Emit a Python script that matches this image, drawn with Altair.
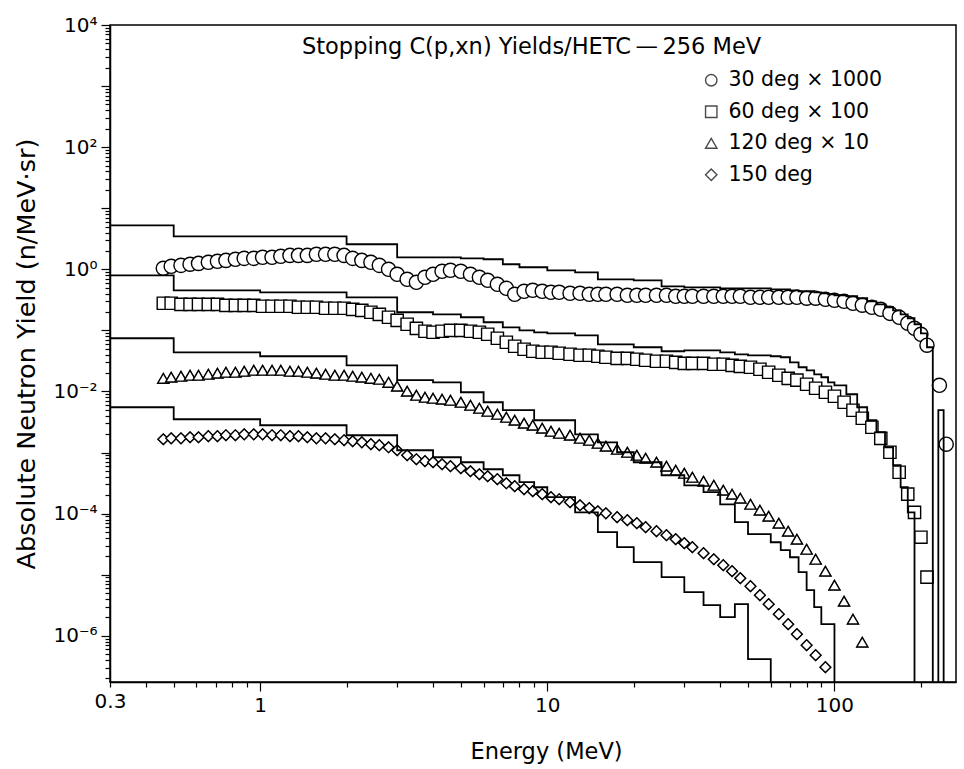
import altair as alt
import pandas as pd

FONT = "DejaVu Sans"
SERIES = ["30 deg × 1000", "60 deg × 100", "120 deg × 10", "150 deg"]
SHAPES = ["circle", "square", "triangle-up", "diamond"]
SIZES = [200, 150, 125, 115]

# ---------------- measured points (energy in MeV, yield n/MeV·sr) ----------------
E30 = [0.46, 0.49, 0.53, 0.57, 0.61, 0.66, 0.71, 0.76, 0.82, 0.88,
       0.95, 1.02, 1.1, 1.18, 1.27, 1.36, 1.46, 1.57, 1.69, 1.82,
       1.96, 2.1, 2.26, 2.43, 2.6, 2.8, 3.0, 3.25, 3.5, 3.75,
       4.0, 4.3, 4.6, 5.0, 5.4, 5.8, 6.2, 6.7, 7.2, 7.7,
       8.3, 8.9, 9.6, 10.3, 11, 12, 13, 14, 15, 16,
       17.5, 19, 20.5, 22, 24, 26, 28, 30, 32, 35,
       38, 41, 44, 47, 51, 55, 59, 64, 69, 74,
       80, 86, 93, 100, 108, 116, 125, 135, 145, 156,
       168, 180, 190, 200, 210, 232, 245]
Y30 = [1.04, 1.12, 1.16, 1.21, 1.25, 1.30, 1.35, 1.40, 1.46, 1.51,
       1.51, 1.57, 1.57, 1.63, 1.69, 1.69, 1.69, 1.76, 1.76, 1.76,
       1.69, 1.51, 1.40, 1.30, 1.16, 1.00, 0.828, 0.686, 0.613, 0.740,
       0.828, 0.927, 0.963, 0.927, 0.828, 0.740, 0.661, 0.568, 0.489, 0.390,
       0.437, 0.453, 0.437, 0.420, 0.420, 0.405, 0.405, 0.390, 0.390, 0.390,
       0.390, 0.376, 0.376, 0.376, 0.376, 0.376, 0.362, 0.362, 0.362, 0.362,
       0.362, 0.362, 0.362, 0.362, 0.348, 0.348, 0.348, 0.348, 0.348, 0.348,
       0.336, 0.336, 0.323, 0.311, 0.299, 0.278, 0.258, 0.239, 0.221, 0.190,
       0.164, 0.131, 0.108, 0.0864, 0.0571, 0.0126, 0.00137]

E60 = [0.46, 0.49, 0.53, 0.57, 0.61, 0.66, 0.71, 0.76, 0.82, 0.88,
       0.95, 1.02, 1.1, 1.18, 1.27, 1.36, 1.46, 1.57, 1.69, 1.82,
       1.96, 2.1, 2.26, 2.43, 2.6, 2.8, 3.0, 3.25, 3.5, 3.75,
       4.0, 4.3, 4.6, 5.0, 5.4, 5.8, 6.2, 6.7, 7.2, 7.7,
       8.3, 8.9, 9.6, 10.3, 11, 12, 13, 14, 15, 16,
       17.5, 19, 20.5, 22, 24, 26, 28, 30, 32, 35,
       38, 41, 44, 47, 51, 55, 59, 64, 69, 74,
       80, 86, 93, 100, 108, 116, 125, 135, 145, 156,
       168, 180, 190, 200, 210]
Y60 = [0.278, 0.278, 0.267, 0.267, 0.267, 0.267, 0.267, 0.257, 0.257, 0.257,
       0.257, 0.248, 0.248, 0.248, 0.248, 0.239, 0.239, 0.239, 0.230, 0.230,
       0.230, 0.221, 0.213, 0.198, 0.183, 0.164, 0.146, 0.126, 0.108, 0.0967,
       0.0931, 0.0967, 0.100, 0.100, 0.0967, 0.0931, 0.0864, 0.0743, 0.0639, 0.0549,
       0.0491, 0.0455, 0.0438, 0.0438, 0.0422, 0.0406, 0.0391, 0.0391, 0.0377, 0.0363,
       0.0349, 0.0349, 0.0337, 0.0324, 0.0312, 0.0312, 0.0300, 0.0289, 0.0289, 0.0289,
       0.0279, 0.0279, 0.0268, 0.0258, 0.0249, 0.0231, 0.0206, 0.0184, 0.0164, 0.0153,
       0.0131, 0.0113, 0.00970, 0.00834, 0.00666, 0.00493, 0.00364, 0.00259, 0.00171, 0.00101,
       0.000476, 0.000208, 0.000105, 4.11e-5, 9.1e-6]

E120 = [0.46, 0.49, 0.53, 0.57, 0.61, 0.66, 0.71, 0.76, 0.82, 0.88,
        0.95, 1.02, 1.1, 1.18, 1.27, 1.36, 1.46, 1.57, 1.69, 1.82,
        1.96, 2.1, 2.26, 2.43, 2.6, 2.8, 3.0, 3.25, 3.5, 3.75,
        4.0, 4.3, 4.6, 5.0, 5.4, 5.8, 6.2, 6.7, 7.2, 7.7,
        8.3, 8.9, 9.6, 10.3, 11, 12, 13, 14, 15, 16,
        17.5, 19, 20.5, 22, 24, 26, 28, 30, 32, 35,
        38, 41, 44, 47, 51, 55, 59, 64, 69, 74,
        80, 86, 93, 100, 108, 116, 125]
Y120 = [0.0164, 0.0171, 0.0177, 0.0184, 0.0184, 0.0191, 0.0199, 0.0206, 0.0206, 0.0214,
        0.0222, 0.0222, 0.0222, 0.0222, 0.0214, 0.0214, 0.0206, 0.0199, 0.0191, 0.0184,
        0.0184, 0.0177, 0.0171, 0.0164, 0.0158, 0.0141, 0.0122, 0.0101, 0.00867, 0.00804,
        0.00774, 0.00746, 0.00718, 0.00666, 0.00594, 0.00531, 0.00474, 0.00423, 0.00378, 0.00338,
        0.00302, 0.00280, 0.00250, 0.00223, 0.00207, 0.00192, 0.00171, 0.00159, 0.00142, 0.00127,
        0.00113, 0.00101, 0.000903, 0.000806, 0.000694, 0.000597, 0.000513, 0.000458, 0.000394, 0.000339,
        0.000291, 0.000242, 0.000208, 0.000179, 0.000142, 0.000114, 9.07e-5, 6.96e-5, 5.15e-5, 3.81e-5,
        2.61e-5, 1.79e-5, 1.14e-5, 6.73e-6, 3.68e-6, 1.87e-6, 7.86e-7]

E150 = [0.46, 0.49, 0.53, 0.57, 0.61, 0.66, 0.71, 0.76, 0.82, 0.88,
        0.95, 1.02, 1.1, 1.18, 1.27, 1.36, 1.46, 1.57, 1.69, 1.82,
        1.96, 2.1, 2.26, 2.43, 2.6, 2.8, 3.0, 3.25, 3.5, 3.75,
        4.0, 4.3, 4.6, 5.0, 5.4, 5.8, 6.2, 6.7, 7.2, 7.7,
        8.3, 8.9, 9.6, 10.3, 11, 12, 13, 14, 15, 16,
        17.5, 19, 20.5, 22, 24, 26, 28, 30, 32, 35,
        38, 41, 44, 47, 51, 55, 59, 64, 69, 74,
        80, 86, 93]
Y150 = [0.00165, 0.00171, 0.00171, 0.00178, 0.00178, 0.00185, 0.00185, 0.00192, 0.00192, 0.00199,
        0.00199, 0.00199, 0.00192, 0.00192, 0.00185, 0.00185, 0.00178, 0.00171, 0.00171, 0.00165,
        0.00159, 0.00153, 0.00147, 0.00137, 0.00132, 0.00122, 0.00109, 0.000903, 0.000777, 0.000721,
        0.000694, 0.000643, 0.000597, 0.000553, 0.000494, 0.000441, 0.000409, 0.000366, 0.000314, 0.000281,
        0.000251, 0.000233, 0.000208, 0.000186, 0.000172, 0.000154, 0.000137, 0.000123, 0.000109, 0.000101,
        8.73e-5, 7.80e-5, 6.96e-5, 5.99e-5, 5.15e-5, 4.43e-5, 3.81e-5, 3.28e-5, 2.82e-5, 2.25e-5,
        1.79e-5, 1.43e-5, 1.14e-5, 8.77e-6, 6.48e-6, 4.62e-6, 3.29e-6, 2.26e-6, 1.55e-6, 1.06e-6,
        7.02e-7, 4.81e-7, 3.06e-7]

# ---------------- HETC histograms (bin edges in MeV, value per bin) ----------------
# 1e-9 marks an empty bin (below the axis)
EDGES = [0.3, 0.5, 1, 2, 3, 4, 5, 6, 7, 8,
         9, 10, 12.5, 15, 17.5, 20, 25, 30, 35, 40,
         45, 50, 55, 60, 65, 70, 75, 80, 85, 90,
         95, 100, 110, 120, 130, 140, 150, 160, 170, 180,
         190, 200, 210, 220, 230, 240, 250, 256]
H30 = [5.25, 3.47, 3.47, 2.57, 1.57, 1.57, 1.51, 1.46, 1.21, 1.08,
       1.08, 0.963, 0.893, 0.686, 0.686, 0.661, 0.527, 0.507, 0.507, 0.489,
       0.489, 0.489, 0.489, 0.471, 0.471, 0.453, 0.437, 0.437, 0.420, 0.405,
       0.390, 0.376, 0.362, 0.336, 0.299, 0.267, 0.239, 0.213, 0.183, 0.158,
       0.126, 0.0896, 0.0529, 1e-9, 0.00493, 1e-9, 1e-9]
H60 = [0.797, 0.453, 0.420, 0.348, 0.198, 0.183, 0.164, 0.136, 0.112, 0.100,
       0.0931, 0.0896, 0.0831, 0.0592, 0.0592, 0.0529, 0.0455, 0.0472, 0.0472, 0.0438,
       0.0406, 0.0391, 0.0391, 0.0377, 0.0363, 0.0300, 0.0249, 0.0222, 0.0191, 0.0171,
       0.0141, 0.0126, 0.00900, 0.00551, 0.00338, 0.00215, 0.00122, 0.000620, 0.000270, 0.000105,
       1e-9, 1e-9, 1e-9, 1e-9, 1e-9, 1e-9, 1e-9]
H120 = [0.0743, 0.0438, 0.0377, 0.0268, 0.0153, 0.0141, 0.00970, 0.00666, 0.00493, 0.00493,
        0.00338, 0.00338, 0.00199, 0.00147, 0.00101, 0.000694, 0.000425, 0.000291, 0.000224, 0.000142,
        7.23e-5, 4.60e-5, 4.60e-5, 3.40e-5, 2.52e-5, 1.93e-5, 1.10e-5, 5.57e-6, 2.94e-6, 1.55e-6,
        1.55e-6, 1e-9, 1e-9, 1e-9, 1e-9, 1e-9, 1e-9, 1e-9, 1e-9, 1e-9,
        1e-9, 1e-9, 1e-9, 1e-9, 1e-9, 1e-9, 1e-9]
H150 = [0.00551, 0.00351, 0.00280, 0.00192, 0.00109, 0.000838, 0.000694, 0.000533, 0.000425, 0.000327,
        0.000270, 0.000186, 0.000105, 4.96e-5, 2.82e-5, 1.60e-5, 9.10e-6, 5.17e-6, 3.17e-6, 2.02e-6,
        3.29e-6, 4.14e-7, 4.14e-7, 1e-9, 1e-9, 1e-9, 1e-9, 1e-9, 1e-9, 1e-9,
        1e-9, 1e-9, 1e-9, 1e-9, 1e-9, 1e-9, 1e-9, 1e-9, 1e-9, 1e-9,
        1e-9, 1e-9, 1e-9, 1e-9, 1e-9, 1e-9, 1e-9]

# ---------------- tables ----------------
pt_rows = []
for name, es, vs in zip(SERIES, [E30, E60, E120, E150], [Y30, Y60, Y120, Y150]):
    assert len(es) == len(vs), name
    for e, v in zip(es, vs):
        pt_rows.append({"E": e, "Y": v, "series": name})
pts = pd.DataFrame(pt_rows)

h_rows = []
for name, vals in zip(SERIES, [H30, H60, H120, H150]):
    assert len(vals) == len(EDGES) - 1, name
    for i, v in enumerate(vals):
        h_rows.append({"E": EDGES[i], "Y": v, "calc": name, "i": i})
    h_rows.append({"E": EDGES[-1], "Y": vals[-1], "calc": name, "i": len(vals)})
hist = pd.DataFrame(h_rows)

# ---------------- axes ----------------
X_TICKS = [0.3, 0.4, 0.5, 0.6, 0.7, 0.8, 0.9, 1, 2, 3, 4, 5, 6, 7, 8, 9,
           10, 20, 30, 40, 50, 60, 70, 80, 90, 100, 200]
Y_TICKS = [float(f"{m}e{k}") for k in range(-7, 4) for m in range(1, 10)
           if float(f"{m}e{k}") >= 1.75e-7] + [1e4]

LOGV = "(log(datum.value)/LN10)"
IS_DEC = f"abs({LOGV} - round({LOGV})) < 1e-6"
y_label = (f"({IS_DEC} && round({LOGV}) % 2 == 0) ? '10' + "
           f"replace(replace(replace(replace(replace(toString(round({LOGV})), '-', '⁻'),"
           f" '0', '⁰'), '2', '²'), '4', '⁴'), '6', '⁶') : ''")
x_label = ("datum.value == 0.3 ? '0.3' : datum.value == 1 ? '1' : "
           "datum.value == 10 ? '10' : datum.value == 100 ? '100' : ''")

x_scale = alt.Scale(type="log", domain=[0.3, 265], nice=False)
y_scale = alt.Scale(type="log", domain=[1.75e-7, 1e4], nice=False)

x_axis = alt.Axis(title="Energy (MeV)", values=X_TICKS, labelExpr=x_label,
                  tickSize={"condition": {"test": "datum.value == 1 || datum.value == 10 || datum.value == 100",
                                          "value": 9}, "value": 5},
                  labelPadding=4, titlePadding=25, labelFlush=False, titleFontSize=22.5,
                  titleX=436)
y_axis = alt.Axis(title="Absolute Neutron Yield (n/MeV·sr)", values=Y_TICKS, labelExpr=y_label,
                  tickSize={"condition": {"test": IS_DEC, "value": 9}, "value": 5},
                  labelPadding=4, titlePadding=13, labelFlush=False, titleFontSize=25.5)

x_enc = alt.X("E:Q", scale=x_scale, axis=x_axis)
y_enc = alt.Y("Y:Q", scale=y_scale, axis=y_axis)

# legend-carrying layer: plain outlined markers (covered by the white-filled ones drawn above it)
legend_layer = alt.Chart(pts).mark_point(filled=False, color="black", strokeWidth=1.4,
                                         size=110, clip=True).encode(
    x=x_enc, y=y_enc,
    shape=alt.Shape("series:N", scale=alt.Scale(domain=SERIES, range=SHAPES),
                    legend=alt.Legend(orient="none", legendX=591, legendY=45, title=None,
                                      labelFont=FONT, labelFontSize=20.5, labelColor="black",
                                      labelLimit=0, symbolSize=130, symbolStrokeWidth=1.4,
                                      symbolStrokeColor="black", rowPadding=10.5,
                                      labelOffset=7, padding=0)),
)

point_layers = []
for name, shp, sz in zip(SERIES, SHAPES, SIZES):
    point_layers.append(
        alt.Chart(pts).transform_filter(alt.datum.series == name).mark_point(
            shape=shp, filled=True, fill="white", stroke="black", strokeWidth=1.4,
            clip=True, opacity=1, size=sz).encode(x=x_enc, y=y_enc, order=alt.Order("E:Q"))
    )

lines = alt.Chart(hist).mark_line(interpolate="step-after", clip=True, color="black",
                                  strokeWidth=1.8).encode(
    x=x_enc, y=y_enc, detail="calc:N", order=alt.Order("i:Q"),
)

chart = alt.layer(legend_layer, *point_layers, lines).properties(
    width=846, height=657,
    autosize=alt.AutoSizeParams(type="none"),
    padding={"left": 110, "top": 25, "right": 8, "bottom": 87},
    title=alt.TitleParams(text="Stopping C(p,xn) Yields/HETC\u2009—\u2009256 MeV", anchor="start",
                          frame="group", dx=192, offset=-43, font=FONT, fontSize=22.5,
                          fontWeight="normal", color="black"),
).configure_axis(
    labelFont=FONT, titleFont=FONT, labelFontSize=20,
    titleFontWeight="normal", labelColor="black", titleColor="black",
    domainColor="black", domainWidth=1.5, tickColor="black", tickWidth=1.2, grid=False,
).configure_view(stroke="black", strokeWidth=1.5)

chart.save("out.html", embed_options={"renderer": "svg", "actions": False})
